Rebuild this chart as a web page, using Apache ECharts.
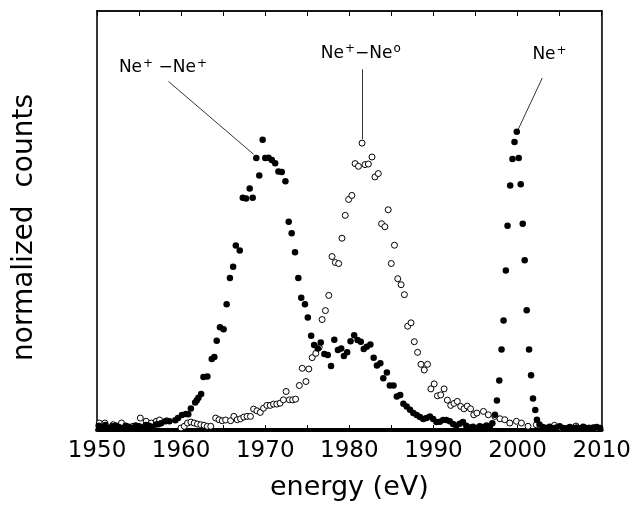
<!DOCTYPE html>
<html>
<head>
<meta charset="utf-8">
<script src="https://cdn.jsdelivr.net/npm/echarts@6/dist/echarts.min.js"></script>
<style>
html,body{margin:0;padding:0;background:#fff;overflow:hidden;}
#chart{width:634px;height:506px;}
</style>
</head>
<body>
<div id="chart"></div>
<script>
// filled circles (Ne+-Ne+ and Ne+ peaks) : [energy eV, counts]
const filledPoints = [
  [1950.2,1.0],[1950.6,0.6],[1951.0,1.2],[1951.4,0.5],[1951.8,0.9],[1952.2,1.1],[1952.6,0.7],[1953.0,0.4],
  [1953.4,1.0],[1953.8,0.8],[1954.2,0.5],[1954.6,1.1],[1955.0,0.9],[1955.4,0.6],[1955.8,1.2],[1956.2,1.0],
  [1956.6,0.7],[1957.0,1.3],[1957.3,1.4],
  [1957.63,1.59],[1958.13,2.07],[1958.61,2.07],[1959.31,2.30],[1959.63,2.85],[1960.10,3.56],[1960.57,3.80],
  [1960.85,3.73],[1961.16,5.15],[1961.67,6.58],[1961.87,7.13],[1962.06,7.67],[1962.38,8.62],[1962.65,12.66],
  [1963.12,12.75],[1963.64,16.93],[1963.95,17.41],[1964.23,21.30],[1964.62,24.53],[1965.05,24.06],[1965.41,30.00],
  [1965.80,36.27],[1966.18,38.95],[1966.50,44.01],[1966.97,42.82],[1967.33,55.41],[1967.72,55.27],[1968.15,57.64],
  [1968.51,55.41],[1968.94,64.91],[1969.29,60.73],[1969.69,69.28],[1970.00,64.91],[1970.39,65.00],[1970.78,64.43],
  [1971.18,63.65],[1971.57,61.68],[1971.96,61.58],[1972.40,59.38],[1972.79,49.71],[1973.14,46.95],[1973.54,42.44],
  [1973.93,36.27],[1974.28,31.59],[1974.72,30.00],[1975.06,26.84],[1975.46,22.49],[1975.81,20.26],[1976.25,19.48],
  [1976.60,20.90],[1977.03,18.12],[1977.43,17.88],[1977.82,15.27],[1978.21,21.54],[1978.64,19.07],[1979.03,19.48],
  [1979.35,17.65],[1979.74,18.53],[1980.14,21.21],[1980.57,22.63],[1980.97,21.45],[1981.36,21.07],[1981.71,19.31],
  [1982.06,19.88],[1982.50,20.43],[1982.89,17.27],[1983.28,15.37],[1983.68,15.91],[1984.03,12.35],[1984.46,13.70],
  [1984.81,10.62],[1985.25,10.62],[1985.64,8.00],[1986.04,8.38],[1986.42,6.25],[1986.81,5.63],[1987.21,4.82],
  [1987.60,4.04],[1988.00,3.56],[1988.39,3.09],[1988.78,2.61],[1989.17,2.85],[1989.57,3.25],[1989.96,2.61],
  [1990.35,1.90],[1990.75,1.97],[1991.14,2.38],[1991.53,2.38],[1991.93,2.07],[1992.32,1.43],[1992.71,1.02],
  [1993.11,1.50],[1993.50,1.90],
  [1993.9,1.0],[1994.3,0.6],[1994.7,0.8],[1995.1,0.5],[1995.5,0.9],[1995.9,0.7],[1996.3,1.1],[1996.7,0.8],[1997.0,1.6],
  [1997.31,3.63],[1997.54,7.05],[1997.82,11.80],[1998.09,19.24],[1998.33,26.13],[1998.60,38.07],[1998.80,48.76],
  [1999.12,58.35],[1999.39,64.67],[1999.63,68.71],[1999.90,71.18],[2000.13,64.91],[2000.37,58.66],[2000.61,49.23],
  [2000.84,40.54],[2001.08,28.57],[2001.36,19.24],[2001.60,13.06],[2001.83,7.53],[2002.10,4.75],[2002.30,2.45],
  [2002.6,1.3],[2003.0,0.7],[2003.4,0.5],[2003.8,0.8],[2004.2,0.4],[2004.6,0.6],[2005.0,0.9],[2005.4,0.5],
  [2005.8,0.4],[2006.2,0.7],[2006.6,0.5],[2007.0,0.6],[2007.4,0.4],[2007.8,0.8],[2008.2,0.5],[2008.6,0.4],
  [2009.0,0.6],[2009.4,0.7],[2009.8,0.5]
];
// open circles (Ne+-Ne0 peak)
const openPoints = [
  [1950.27,1.66],[1950.94,1.66],[1951.92,1.26],[1952.91,1.66],[1954.28,0.88],[1955.15,2.85],[1955.85,2.07],
  [1956.45,1.66],[1957.04,2.07],[1957.43,2.38],[1958.29,2.21],[1959.98,0.48],[1960.37,0.88],[1960.76,1.66],
  [1961.16,1.90],[1961.55,1.66],[1961.94,1.43],[1962.34,1.26],[1962.73,1.12],[1963.12,0.88],[1963.52,0.88],
  [1964.11,2.85],[1964.50,2.45],[1964.89,2.21],[1965.29,2.38],[1965.88,2.21],[1966.27,3.25],[1966.66,2.45],
  [1967.06,2.68],[1967.45,3.09],[1967.84,3.25],[1968.24,3.25],[1968.62,4.99],[1969.01,4.58],[1969.41,4.20],
  [1969.80,5.20],[1970.19,5.87],[1970.59,5.87],[1970.98,6.18],[1971.37,6.18],[1971.76,6.41],[1972.16,7.20],
  [1972.48,9.19],[1972.87,7.20],[1973.26,7.20],[1973.61,7.36],[1974.05,10.62],[1974.40,14.73],[1974.84,11.57],
  [1975.18,14.56],[1975.58,17.27],[1976.01,18.29],[1976.41,19.71],[1976.76,26.36],[1977.15,28.50],[1977.55,32.13],
  [1977.94,41.40],[1978.33,39.97],[1978.73,39.73],[1979.12,45.77],[1979.51,51.23],[1979.91,55.03],[1980.30,55.98],
  [1980.68,63.58],[1981.08,62.94],[1981.51,68.47],[1981.86,63.34],[1982.26,63.48],[1982.69,65.15],[1983.04,60.40],
  [1983.44,61.20],[1983.83,49.23],[1984.22,48.52],[1984.62,52.56],[1984.98,39.73],[1985.36,44.10],[1985.75,36.10],
  [1986.15,34.68],[1986.54,32.30],[1986.93,24.77],[1987.33,25.58],[1987.72,21.07],[1988.11,18.53],[1988.51,15.68],
  [1988.90,14.32],[1989.29,15.68],[1989.69,9.81],[1990.08,11.00],[1990.47,8.15],[1990.86,8.38],[1991.26,9.81],
  [1991.65,7.13],[1992.05,5.87],[1992.44,6.34],[1992.83,6.82],[1993.23,5.63],[1993.62,5.06],[1994.01,5.70],
  [1994.41,5.06],[1994.79,3.63],[1995.15,4.04],[1995.94,4.44],[1996.52,3.63],[1997.30,3.25],[1997.90,2.68],
  [1998.48,2.45],[1999.07,1.66],[1999.86,2.07],[2000.45,1.66],[2001.24,0.88],[2002.22,1.26],[2004.38,1.12],
  [2005.17,0.48],[2006.94,0.95],[2008.50,0.48],[2009.49,0.48]
];
// annotations (rich text: {b|...} base, {s|...} superscript)
const annotationText = ['{b|Ne}{s|+}{b| \u2212Ne}{s|+}', '{b|Ne}{s|+}{b|\u2212Ne}{s|o}', '{b|Ne}{s|+}'];
const annotationPos = [[1957.84,86.4],[1981.36,89.8],[2003.79,89.5]];
const leaderLines = [
  [[1958.49,83.2],[1968.62,65.8]],
  [[1981.51,86.1],[1981.51,69.4]],
  [[2002.93,84.0],[2000.06,71.7]]
];
const xTickValues = [1950,1960,1970,1980,1990,2000,2010];

const chart = echarts.init(document.getElementById('chart'), null, {renderer:'canvas'});
const FONT = 'DejaVu Sans';
const W = 'normal';
const xCommon = {
  type:'value', min:1950, max:2010, interval:5, gridIndex:0, show:true,
  splitLine:{show:false}
};
chart.setOption({
  backgroundColor:'#fff',
  animation:false,
  grid:{left:97, right:28, top:11, bottom:74, show:true, borderColor:'#222', borderWidth:1.5, backgroundColor:'transparent'},
  xAxis:[
    Object.assign({}, xCommon, {
      position:'bottom',
      name:'energy (eV)', nameLocation:'middle', nameGap:44,
      nameTextStyle:{fontFamily:FONT, fontSize:27, fontWeight:W, color:'#000'},
      axisLine:{show:true, onZero:false, lineStyle:{color:'#000', width:4}},
      axisTick:{show:true, inside:true, length:5, lineStyle:{color:'#000', width:1}},
      axisLabel:{show:true, margin:10, fontFamily:FONT, fontSize:23, fontWeight:W, color:'#000',
        formatter: v => xTickValues.indexOf(v) >= 0 ? String(v) : ''}
    }),
    Object.assign({}, xCommon, {
      position:'top',
      axisLine:{show:true, onZero:false, lineStyle:{color:'#000', width:1.5}},
      axisTick:{show:true, inside:true, length:5, lineStyle:{color:'#000', width:1}},
      axisLabel:{show:false}
    })
  ],
  yAxis:[
    {type:'value', min:0, max:100, position:'left', gridIndex:0,
     name:'normalized  counts', nameLocation:'middle', nameGap:58,
     nameTextStyle:{fontFamily:FONT, fontSize:28, fontWeight:W, color:'#000', padding:[0,14,0,0]},
     axisLine:{show:true, onZero:false, lineStyle:{color:'#333', width:1.8}},
     axisTick:{show:false}, axisLabel:{show:false}, splitLine:{show:false}},
    {type:'value', min:0, max:100, position:'right', gridIndex:0,
     axisLine:{show:true, onZero:false, lineStyle:{color:'#333', width:1.8}},
     axisTick:{show:false}, axisLabel:{show:false}, splitLine:{show:false}}
  ],
  series:[
    {type:'scatter', name:'Ne+-Ne0', data:openPoints, symbol:'circle', symbolSize:6,
     itemStyle:{color:'#fff', borderColor:'#000', borderWidth:1, opacity:1}, silent:true},
    {type:'scatter', name:'filled', data:filledPoints, symbol:'circle', symbolSize:6.5,
     itemStyle:{color:'#000', opacity:1}, silent:true},
    {type:'scatter', name:'labels', silent:true, symbolSize:1,
     itemStyle:{color:'rgba(0,0,0,0)', opacity:1},
     data: annotationPos.map((p,i) => ({value:p, name:annotationText[i]})),
     label:{show:true, position:'inside', formatter: p => p.name, color:'#000',
       rich:{
         b:{fontFamily:FONT, fontSize:17, fontWeight:W, color:'#000', lineHeight:21},
         s:{fontFamily:FONT, fontSize:12, fontWeight:W, color:'#000', verticalAlign:'top', lineHeight:12, padding:[0,0,0,1]}
       }},
     markLine:{silent:true, symbol:['none','none'], label:{show:false},
       lineStyle:{color:'#000', width:0.8, type:'solid', opacity:1},
       emphasis:{disabled:true},
       data: leaderLines.map(l => [{coord:l[0]},{coord:l[1]}])}
    }
  ]
});
</script>
</body>
</html>
